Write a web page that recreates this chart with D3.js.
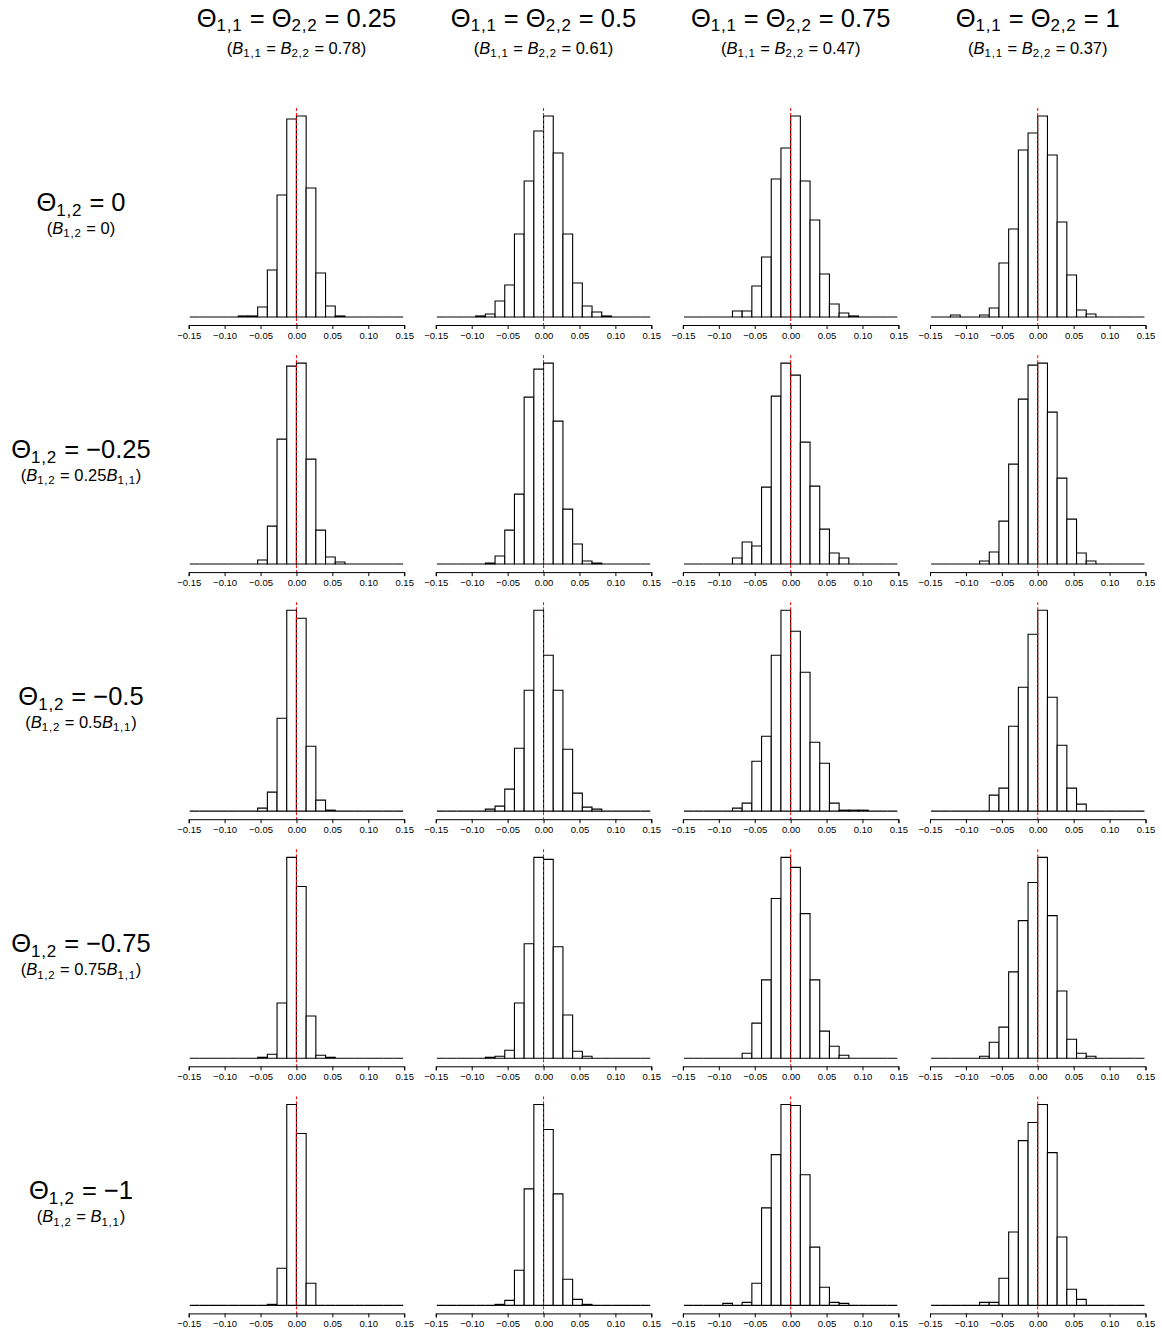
<!DOCTYPE html>
<html>
<head>
<meta charset="utf-8">
<script src="https://cdn.jsdelivr.net/npm/d3@7"></script>
<style>
  html, body { margin: 0; padding: 0; background: #fff; }
  svg { display: block; font-family: "Liberation Sans", Arial, Helvetica, sans-serif; }
</style>
</head>
<body>
<script>
// Column settings: diagonal Theta values and the matching B values
const colTheta = ["0.25", "0.5", "0.75", "1"];
const colB = ["0.78", "0.61", "0.47", "0.37"];

// Row settings: off-diagonal Theta and B_{1,2} as a multiple of B_{1,1}
const rowTheta12 = ["0", "\u22120.25", "\u22120.5", "\u22120.75", "\u22121"];
const rowBCoef = ["0", "0.25", "0.5", "0.75", "1"];

// x axis ticks
const xTicks = [-0.15, -0.10, -0.05, 0.00, 0.05, 0.10, 0.15];

// Histogram breaks: 22 bins of width 0.0135, symmetric around zero
const binWidth = 0.0135;
const nBinsPerSide = 11;

// Bin counts (22 bins, left to right), one array per Theta_{1,2} row, one list per column
const countsTheta12_0 = [
  [0,0,0,0,0,1,1,10,47,122,198,201,129,44,11,1,0,0,0,0,0,0],
  [0,0,0,0,1,3,16,32,83,136,186,201,164,83,34,11,5,1,0,0,0,0],
  [0,0,0,0,0,6,6,31,60,138,169,201,136,97,43,13,4,1,0,0,0,0],
  [0,0,2,0,0,2,9,54,88,167,184,201,162,95,42,7,3,0,0,0,0,0]
];
const countsTheta12_025 = [
  [0,0,0,0,0,0,0,4,38,125,198,201,105,34,7,2,0,0,0,0,0,0],
  [0,0,0,0,0,1,8,34,70,167,195,201,143,55,20,3,1,0,0,0,0,0],
  [0,0,0,0,0,6,22,18,77,168,201,189,122,78,35,11,6,0,0,0,0,0],
  [0,0,0,0,0,3,12,43,100,165,199,201,152,86,45,11,3,0,0,0,0,0]
];
const countsTheta12_05 = [
  [0,0,0,0,0,0,0,3,19,93,201,193,65,11,1,0,0,0,0,0,0,0],
  [0,0,0,0,0,2,5,22,63,121,201,156,121,62,18,4,2,0,0,0,0,0],
  [0,0,0,0,0,3,8,50,75,156,201,180,139,69,48,8,1,1,1,0,0,0],
  [0,0,0,0,0,0,16,23,85,124,177,201,114,66,23,7,0,0,0,0,0,0]
];
const countsTheta12_075 = [
  [0,0,0,0,0,0,0,1,4,55,200,171,42,3,1,0,0,0,0,0,0,0],
  [0,0,0,0,0,1,2,8,55,114,200,198,111,43,7,2,0,0,0,0,0,0],
  [0,0,0,0,0,0,5,35,78,159,200,190,144,78,27,12,3,0,0,0,0,0],
  [0,0,0,0,0,2,16,31,86,137,175,200,142,67,19,5,2,0,0,0,0,0]
];
const countsTheta12_1 = [
  [0,0,0,0,0,0,0,0,1,37,200,171,22,0,0,0,0,0,0,0,0,0],
  [0,0,0,0,0,0,1,5,35,116,200,175,111,26,6,1,0,0,0,0,0,0],
  [0,0,0,0,2,0,3,22,97,150,200,199,130,58,18,3,2,0,0,0,0,0],
  [0,0,0,0,0,3,3,27,73,164,182,200,152,68,16,6,0,0,0,0,0,0]
];
const rowCounts = [countsTheta12_0, countsTheta12_025, countsTheta12_05, countsTheta12_075, countsTheta12_1];

// ---- layout ----
const W = 1162, H = 1334;
const colLeft0 = 188.7, colStep = 247.1, panelW = 215.5;
const rowTop0 = 108, rowStep = 247.1, panelH = 217;
const rowLabelX = 81;

const svg = d3.select("body").append("svg")
  .attr("width", W).attr("height", H)
  .attr("viewBox", `0 0 ${W} ${H}`);
svg.append("rect").attr("width", W).attr("height", H).attr("fill", "#fff");

// Text with plotmath-like subscripts and italics
function richText(g, x, y, parts, size, subSize, subShift) {
  const t = g.append("text")
    .attr("x", x).attr("y", y)
    .attr("text-anchor", "middle")
    .attr("font-size", size)
    .attr("fill", "#000");
  let shift = 0;
  parts.forEach(p => {
    const s = t.append("tspan").text(p.t);
    const target = p.sub ? subShift : 0;
    if (target !== shift) { s.attr("dy", target - shift); shift = target; }
    if (p.sub) s.attr("font-size", subSize).attr("letter-spacing", "0.8px");
    if (p.it) s.attr("font-style", "italic");
  });
  return t;
}

const breaks = d3.range(2 * nBinsPerSide + 1).map(i => (i - nBinsPerSide) * binWidth);

const bigSize = 25.5, bigSub = 17, bigShift = 4.5;
const smallSize = 16.5, smallSub = 11.5, smallShift = 3.2;

// Column headers
colTheta.forEach((th, c) => {
  const cx = colLeft0 + c * colStep + panelW / 2;
  richText(svg, cx, 26.7, [
    {t: "\u0398"}, {t: "1,1", sub: true}, {t: " = "},
    {t: "\u0398"}, {t: "2,2", sub: true}, {t: " = " + th}
  ], bigSize, bigSub, bigShift);
  richText(svg, cx, 54, [
    {t: "("}, {t: "B", it: true}, {t: "1,1", sub: true}, {t: " = "},
    {t: "B", it: true}, {t: "2,2", sub: true}, {t: " = " + colB[c] + ")"}
  ], smallSize, smallSub, smallShift);
});

// Row labels
rowTheta12.forEach((th, r) => {
  const base = 211 + r * rowStep;
  richText(svg, rowLabelX, base, [
    {t: "\u0398"}, {t: "1,2", sub: true}, {t: " = " + th}
  ], bigSize, bigSub, bigShift);
  const coef = rowBCoef[r];
  let parts = [{t: "("}, {t: "B", it: true}, {t: "1,2", sub: true}];
  if (coef === "0") {
    parts.push({t: " = 0)"});
  } else if (coef === "1") {
    parts.push({t: " = "}, {t: "B", it: true}, {t: "1,1", sub: true}, {t: ")"});
  } else {
    parts.push({t: " = " + coef}, {t: "B", it: true}, {t: "1,1", sub: true}, {t: ")"});
  }
  richText(svg, rowLabelX, base + 23, parts, smallSize, smallSub, smallShift);
});

// Panels
rowCounts.forEach((rowSet, r) => {
  rowSet.forEach((counts, c) => {
    const left = colLeft0 + c * colStep;
    const top = rowTop0 + r * rowStep;
    const g = svg.append("g");

    const x = d3.scaleLinear().domain([-0.15, 0.15]).range([left, left + panelW]);
    const maxC = d3.max(counts);
    const y = d3.scaleLinear().domain([-0.04 * maxC, 1.04 * maxC]).range([top + panelH, top]);

    const bins = counts.map((v, i) => ({x0: breaks[i], x1: breaks[i + 1], v}));

    g.selectAll("path.bar").data(bins).join("path")
      .attr("class", "bar")
      .attr("d", d => `M${x(d.x0)},${y(0)}V${y(d.v)}H${x(d.x1)}V${y(0)}Z`)
      .attr("fill", "#fff")
      .attr("stroke", "#000")
      .attr("stroke-width", 1.1);

    // reference line at zero
    g.append("line")
      .attr("x1", x(0)).attr("x2", x(0))
      .attr("y1", y(1.04 * maxC)).attr("y2", y(-0.04 * maxC))
      .attr("stroke", "#ff0000")
      .attr("stroke-width", 1)
      .attr("stroke-dasharray", "3,2");

    const axis = d3.axisBottom(x)
      .tickValues(xTicks)
      .tickSize(4)
      .tickPadding(3)
      .tickFormat(d3.format(".2f"));
    const ag = g.append("g")
      .attr("transform", `translate(0,${top + panelH})`)
      .call(axis);
    ag.selectAll("path, line").attr("stroke", "#000").attr("stroke-width", 1);
    ag.selectAll("text")
      .attr("font-size", 9.5)
      .attr("fill", "#000")
      .attr("font-family", "'Liberation Sans', Arial, sans-serif");
  });
});
</script>
</body>
</html>
